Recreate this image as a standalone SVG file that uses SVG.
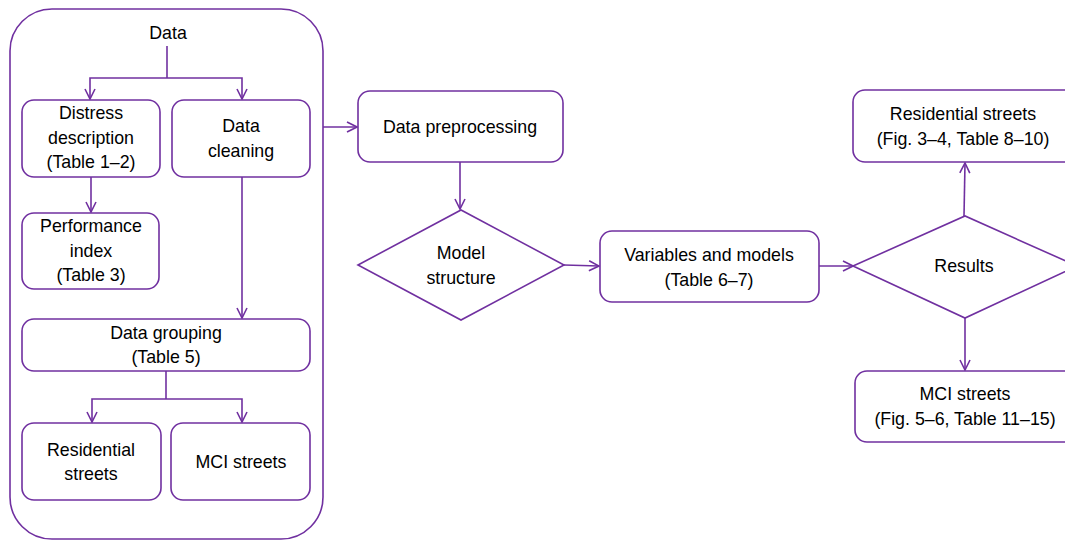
<svg xmlns="http://www.w3.org/2000/svg" width="1065" height="542" viewBox="0 0 1065 542">
<style>
.b{fill:#fff;stroke:#7030A0;stroke-width:1.6}
.c{fill:none;stroke:#7030A0;stroke-width:1.6}
text{font-family:"Liberation Sans",Arial,sans-serif;font-size:17.8px;fill:#000;text-anchor:middle}
</style>
<defs>
<marker id="a" viewBox="0 0 12 12" refX="11" refY="6" markerWidth="12" markerHeight="12" markerUnits="userSpaceOnUse" orient="auto">
<path d="M1,1 L11,6 L1,11" fill="none" stroke="#7030A0" stroke-width="1.6"/>
</marker>
</defs>
<g id="container"><rect class="b" x="10" y="9" width="313" height="530" rx="42"/><text x="168" y="39">Data</text></g>
<g id="distress"><rect class="b" x="22" y="100" width="138" height="77" rx="12"/><text x="91" y="119">Distress</text><text x="91" y="144">description</text><text x="91" y="168">(Table 1–2)</text></g>
<g id="cleaning"><rect class="b" x="172" y="100" width="138" height="77" rx="12"/><text x="241" y="132">Data</text><text x="241" y="157">cleaning</text></g>
<g id="performance"><rect class="b" x="22" y="213" width="137" height="76" rx="12"/><text x="91" y="232">Performance</text><text x="91" y="257">index</text><text x="91" y="281">(Table 3)</text></g>
<g id="grouping"><rect class="b" x="22" y="319" width="288" height="52" rx="12"/><text x="166" y="339">Data grouping</text><text x="166" y="363">(Table 5)</text></g>
<g id="res1"><rect class="b" x="22" y="423" width="139" height="77" rx="12"/><text x="91" y="456">Residential</text><text x="91" y="480">streets</text></g>
<g id="mci1"><rect class="b" x="171" y="423" width="139" height="77" rx="12"/><text x="241" y="468">MCI streets</text></g>
<g id="preprocessing"><rect class="b" x="358" y="91" width="205" height="71" rx="12"/><text x="460" y="133">Data preprocessing</text></g>
<g id="model"><polygon class="b" points="358,265 461,210 564,265 461,320"/><text x="461" y="259">Model</text><text x="461" y="284">structure</text></g>
<g id="variables"><rect class="b" x="600" y="231" width="219" height="71" rx="12"/><text x="709" y="261">Variables and models</text><text x="709" y="286">(Table 6–7)</text></g>
<g id="results"><polygon class="b" points="853,266 965,216 1077,266 965,318"/><text x="964" y="272">Results</text></g>
<g id="res2"><rect class="b" x="853" y="90" width="230" height="72" rx="12"/><text x="963" y="120">Residential streets</text><text x="963" y="145">(Fig. 3–4, Table 8–10)</text></g>
<g id="mci2"><rect class="b" x="855" y="371" width="228" height="71" rx="12"/><text x="965" y="400">MCI streets</text><text x="965" y="425">(Fig. 5–6, Table 11–15)</text></g>
<g id="connectors">
<path class="c" d="M167,46 V78"/>
<path class="c" d="M167,78 H90 V99" marker-end="url(#a)"/>
<path class="c" d="M167,78 H242 V99" marker-end="url(#a)"/>
<path class="c" d="M91,177 V212" marker-end="url(#a)"/>
<path class="c" d="M242,177 V318" marker-end="url(#a)"/>
<path class="c" d="M166,371 V399"/>
<path class="c" d="M166,399 H92 V422" marker-end="url(#a)"/>
<path class="c" d="M166,399 H242 V422" marker-end="url(#a)"/>
<path class="c" d="M323,127 H357" marker-end="url(#a)"/>
<path class="c" d="M460,162 V209" marker-end="url(#a)"/>
<path class="c" d="M564,265 L599,266" marker-end="url(#a)"/>
<path class="c" d="M819,266 H853" marker-end="url(#a)"/>
<path class="c" d="M964,216 L965,163" marker-end="url(#a)"/>
<path class="c" d="M965,318 V370" marker-end="url(#a)"/>
</g>
</svg>
